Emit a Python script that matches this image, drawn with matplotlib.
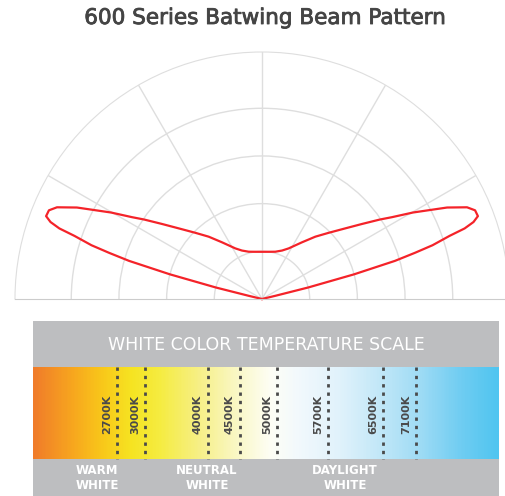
import numpy as np
import matplotlib
matplotlib.use("Agg")
import matplotlib.pyplot as plt
import matplotlib.patheffects as pe
from matplotlib.colors import LinearSegmentedColormap

# beam pattern, right half (angle from horizontal, relative intensity in ring units)
angles = [13, 13.5, 14, 15, 16, 16.8, 17.5, 18.6, 19.2, 20, 21, 22.6, 24.1, 26.3,
          29.8, 32.2, 34, 36.9, 40.3, 44.8, 49.45, 54.8, 62.2, 67.5, 74.3, 82, 90]
intensity = [0, 0.3, 1.0, 2.0, 2.9, 3.35, 3.75, 4.15, 4.5, 4.72, 4.85, 4.84, 4.71, 4.33,
             3.65, 3.22, 2.98, 2.62, 2.29, 1.97, 1.72, 1.455, 1.2, 1.1, 1.03, 1.0, 0.99]

# colour temperature scale
kelvin_labels = ["2700K", "3000K", "4000K", "4500K", "5000K", "5700K", "6500K", "7100K"]
kelvin_pos = [117, 145, 208, 240, 277, 328, 383, 416]
groups = ["WARM\nWHITE", "NEUTRAL\nWHITE", "DAYLIGHT\nWHITE"]
group_pos = [97, 207, 345]
grad_stops = [0, 0.08, 0.145, 0.21, 0.27, 0.36, 0.44, 0.51, 0.57, 0.66, 0.74, 0.83, 0.92, 1.0]
grad_colors = ["#f07c2a", "#f7a51f", "#f9c71a", "#f6e422", "#f5ec40", "#f7f08a", "#faf8c8",
               "#fefef5", "#f2f9fd", "#e0f2fb", "#c4e8f8", "#a0dcf5", "#70cdf2", "#50c5f0"]

W, H = 506, 496
fig = plt.figure(figsize=(W / 100, H / 100), dpi=100)

# ---- polar beam pattern (half wedge is centred inside a square box)
cx, cy, R = 262, 299, 247
rmax = 5.18
ax = fig.add_axes([(cx - R) / W, (H - cy - 0.5 * R) / H, 2 * R / W, 2 * R / H],
                  projection="polar")
ax.set_thetamin(0)
ax.set_thetamax(180)
ax.set_ylim(0, rmax)
ax.set_rgrids([1, 2, 3, 4], labels=[])
ax.set_thetagrids([30, 60, 90, 120, 150], labels=[])
ax.grid(color="#dedede", lw=1.0)
ax.spines["polar"].set_color("#dedede")
ax.spines["start"].set_color("#cccccc")
ax.spines["end"].set_color("#cccccc")
ax.tick_params(length=0)

th = np.radians(angles)
r = np.array(intensity)
full_th = np.concatenate([th, np.pi - th[::-1]])
full_r = np.concatenate([r, r[::-1]])
ax.plot(full_th, full_r, color="#f42329", lw=1.6, clip_on=False,
        solid_joinstyle="round")

fig.text(265 / W, 1 - 18 / H, "600 Series Batwing Beam Pattern", ha="center", va="center",
         fontsize=15.5, color="#444444",
         path_effects=[pe.withStroke(linewidth=0.6, foreground="#444444")])

# ---- colour temperature panel
x0, x1, y0, y1 = 33, 499, 321, 496
bx = fig.add_axes([x0 / W, 0, (x1 - x0) / W, (H - y0) / H])
bx.axis("off")
bx.add_patch(plt.Rectangle((x0, y0), x1 - x0, y1 - y0, color="#bdbec0", zorder=0))

cmap = LinearSegmentedColormap.from_list("cct", list(zip(grad_stops, grad_colors)))
g0, g1 = 367, 459
bx.imshow(np.linspace(0, 1, 400)[None, :], cmap=cmap, aspect="auto",
          extent=[x0, x1, g1, g0], zorder=1)
bx.set_xlim(x0, x1)
bx.set_ylim(y1, y0)

bx.text((x0 + x1) / 2, 345, "WHITE COLOR TEMPERATURE SCALE", ha="center", va="center",
        color="white", fontsize=12.5)

for lab, xp in zip(kelvin_labels, kelvin_pos):
    bx.plot([xp, xp], [g0, g1], color="#4a4a4a", lw=2, ls=(0, (1.2, 1.8)), zorder=2)
    bx.text(xp - 10, 414, lab, rotation=90, ha="center", va="center",
            color="#4a4a4a", fontsize=8, fontweight="semibold", zorder=3)

for lab, xp in zip(groups, group_pos):
    bx.text(xp, 478, lab, ha="center", va="center", color="white", fontsize=8.5,
            fontweight="bold", linespacing=1.25)

fig.savefig("out.png", dpi=100)
